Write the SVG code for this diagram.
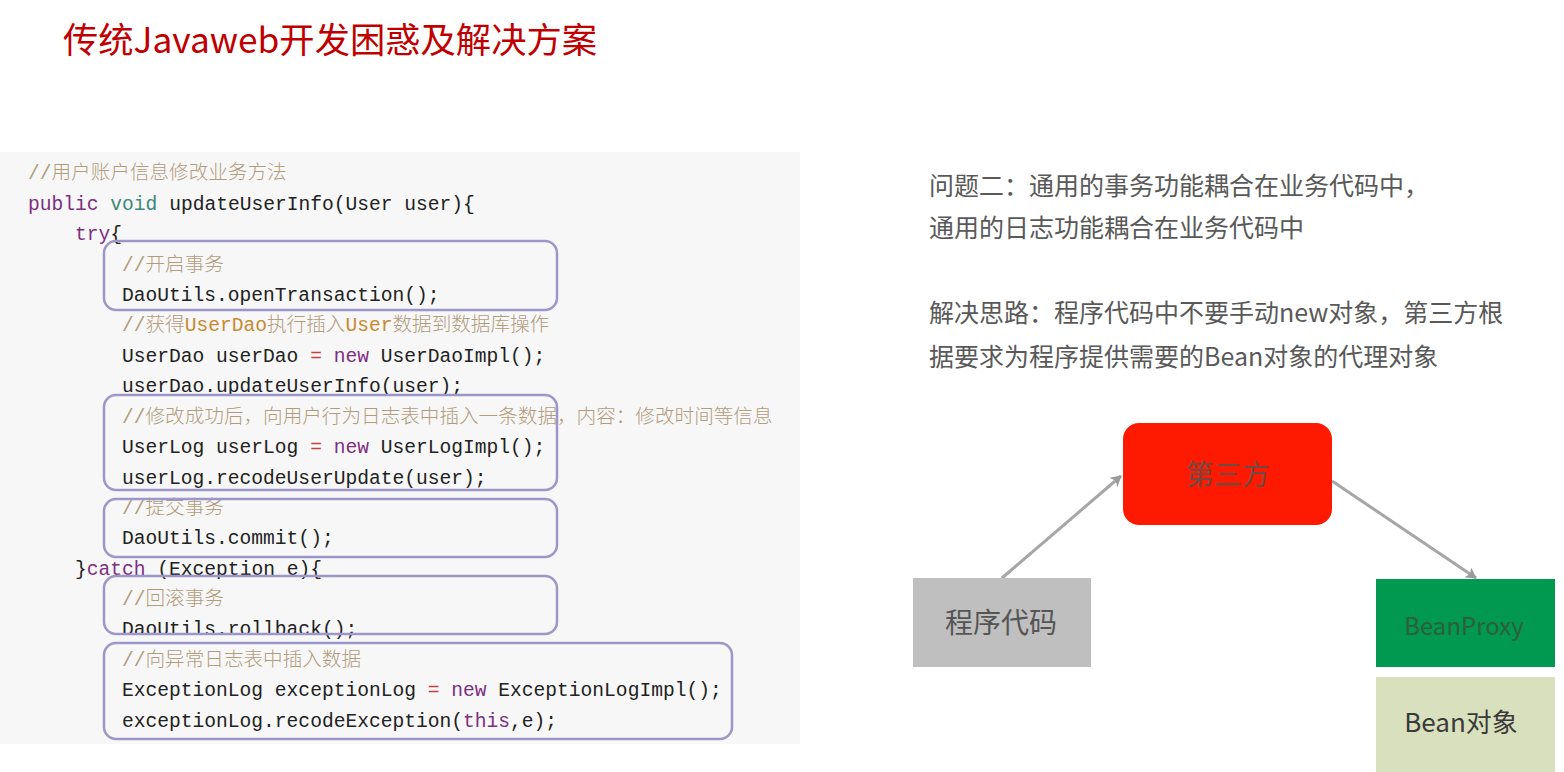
<svg xmlns="http://www.w3.org/2000/svg" width="1564" height="772" viewBox="0 0 1564 772">
<defs>
<style>
.title{font-family:"Noto Sans CJK SC","Liberation Sans",sans-serif;font-size:35.3px;fill:#c00000}
.code{font-family:"Liberation Mono","Noto Sans CJK SC",monospace;font-size:19.6px;fill:#222222}
.cm{fill:#b29c7c;font-weight:300}
.cmk{fill:#c88a30}
.kw{fill:#7d2f82}
.ty{fill:#3a8a7c}
.op{fill:#c8403a}
.blk{fill:none;stroke:#9d96c9;stroke-width:2.5}
.para{font-family:"Noto Sans CJK SC","Liberation Sans",sans-serif;font-size:25px;fill:#595959}
.lbl{font-family:"Noto Sans CJK SC","Liberation Sans",sans-serif;text-anchor:middle;dominant-baseline:central}
.conn{stroke:#a6a6a6;stroke-width:3;fill:none;marker-end:url(#ah)}
</style>
<marker id="ah" markerUnits="userSpaceOnUse" markerWidth="12" markerHeight="12" refX="10" refY="6" orient="auto">
<path d="M0,0 L11,6 L0,12 L3,6 z" fill="#9a9a9a"/>
</marker>
</defs>
<rect width="1564" height="772" fill="#ffffff"/>
<text class="title" x="63" y="53">传统Javaweb开发困惑及解决方案</text>

<g id="code-panel">
<rect x="0" y="152" width="800" height="592" fill="#f7f7f7"/>
<text class="code" x="28" y="179"><tspan class="cm">//用户账户信息修改业务方法</tspan></text>
<text class="code" x="28" y="209.5"><tspan class="kw">public</tspan> <tspan class="ty">void</tspan> updateUserInfo(User user){</text>
<text class="code" x="75" y="240"><tspan class="kw">try</tspan>{</text>
<text class="code" x="122" y="270.5"><tspan class="cm">//开启事务</tspan></text>
<text class="code" x="122" y="301">DaoUtils.openTransaction();</text>
<text class="code" x="122" y="331"><tspan class="cm">//获得</tspan><tspan class="cmk">UserDao</tspan><tspan class="cm">执行插入</tspan><tspan class="cmk">User</tspan><tspan class="cm">数据到数据库操作</tspan></text>
<text class="code" x="122" y="362">UserDao userDao <tspan class="op">=</tspan> <tspan class="kw">new</tspan> UserDaoImpl();</text>
<text class="code" x="122" y="392">userDao.updateUserInfo(user);</text>
<text class="code" x="122" y="422.5"><tspan class="cm">//修改成功后，向用户行为日志表中插入一条数据，内容：修改时间等信息</tspan></text>
<text class="code" x="122" y="453">UserLog userLog <tspan class="op">=</tspan> <tspan class="kw">new</tspan> UserLogImpl();</text>
<text class="code" x="122" y="483.5">userLog.recodeUserUpdate(user);</text>
<text class="code" x="122" y="514"><tspan class="cm">//提交事务</tspan></text>
<text class="code" x="122" y="544">DaoUtils.commit();</text>
<text class="code" x="75" y="574.5">}<tspan class="kw">catch</tspan> (Exception e){</text>
<text class="code" x="122" y="605"><tspan class="cm">//回滚事务</tspan></text>
<text class="code" x="122" y="635">DaoUtils.rollback();</text>
<text class="code" x="122" y="665.5"><tspan class="cm">//向异常日志表中插入数据</tspan></text>
<text class="code" x="122" y="696">ExceptionLog exceptionLog <tspan class="op">=</tspan> <tspan class="kw">new</tspan> ExceptionLogImpl();</text>
<text class="code" x="122" y="726.5">exceptionLog.recodeException(<tspan class="kw">this</tspan>,e);</text>
</g>

<g id="code-blocks">
<rect class="blk" x="104" y="241" width="453" height="69" rx="12"/>
<rect class="blk" x="104" y="395" width="453" height="95" rx="12"/>
<rect class="blk" x="104" y="499" width="453" height="58" rx="12"/>
<rect class="blk" x="104" y="576" width="453" height="58" rx="12"/>
<rect class="blk" x="104" y="643" width="628" height="96" rx="12"/>
</g>

<g id="description">
<text class="para" x="929" y="195">问题二：通用的事务功能耦合在业务代码中，</text>
<text class="para" x="929" y="237">通用的日志功能耦合在业务代码中</text>
<text class="para" x="929" y="322">解决思路：程序代码中不要手动new对象，第三方根</text>
<text class="para" x="929" y="366">据要求为程序提供需要的Bean对象的代理对象</text>
</g>

<g id="connectors">
<line class="conn" x1="1002" y1="578" x2="1121" y2="476"/>
<line class="conn" x1="1332" y1="481" x2="1476" y2="578"/>
</g>

<g id="node-third-party">
<rect x="1123" y="423" width="209" height="102" rx="16" fill="#fe1a00"/>
<text class="lbl" x="1228" y="473" font-size="28" fill="#6e4a42">第三方</text>
</g>
<g id="node-program-code">
<rect x="913" y="578" width="178" height="89" fill="#bfbfbf"/>
<text class="lbl" x="1001" y="621" font-size="28" fill="#555555">程序代码</text>
</g>
<g id="node-bean-proxy">
<rect x="1376" y="579" width="179" height="88" fill="#00994f"/>
<text class="lbl" x="1464" y="624" font-size="24" fill="#2f5e3e">BeanProxy</text>
</g>
<g id="node-bean-object">
<rect x="1376" y="677" width="179" height="95" fill="#d9e0bd"/>
<text class="lbl" x="1461" y="720" font-size="26" fill="#3a3a3a">Bean对象</text>
</g>
</svg>
